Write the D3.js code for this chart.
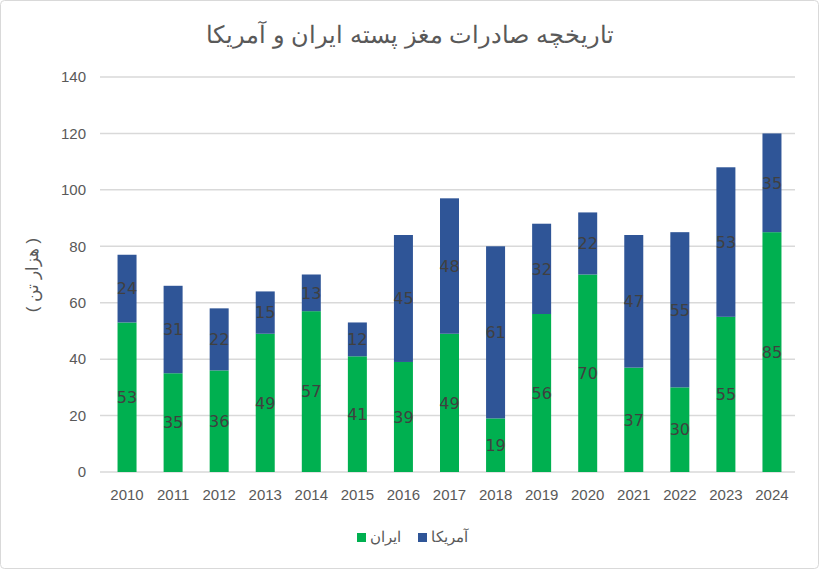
<!DOCTYPE html>
<html><head><meta charset="utf-8">
<script src="https://cdn.jsdelivr.net/npm/d3@7"></script>
<style>
html,body{margin:0;padding:0;background:#fff;}
svg{display:block;font-family:"DejaVu Sans",sans-serif;}
</style></head>
<body><svg id="c" width="819" height="569"></svg>
<script>
const years = ["2010","2011","2012","2013","2014","2015","2016","2017","2018","2019","2020","2021","2022","2023","2024"];
const iran = [53,35,36,49,57,41,39,49,19,56,70,37,30,55,85];
const usa = [24,31,22,15,13,12,45,48,61,32,22,47,55,53,35];
const yTicks = [0,20,40,60,80,100,120,140];
const seriesNames = ["ایران","آمریکا"];
const colors = ["#00B050","#2F5597"];
const title = "تاریخچه صادرات مغز پسته ایران و آمریکا";
const yLabel = "( هزار تن )";

(function(){
const svg = d3.select("#c");
svg.append("rect").attr("x",0.5).attr("y",0.5).attr("width",818).attr("height",568)
  .attr("rx",4).attr("fill","#fff").attr("stroke","#d9d9d9");

const pL=104, pR=795, pT=77, pB=472;
const x = d3.scaleBand().domain(years).range([pL,pR]).paddingInner(0.6).paddingOuter(0.3);
const y = d3.scaleLinear().domain([0,140]).range([pB,pT]);

// gridlines
svg.append("g").selectAll("line").data(yTicks).join("line")
  .attr("x1",100).attr("x2",pR).attr("y1",d=>y(d)).attr("y2",d=>y(d))
  .attr("stroke","#d9d9d9").attr("stroke-width",1.5);

// y tick labels
const ya = svg.append("g").attr("transform",`translate(92,0)`)
  .call(d3.axisLeft(y).tickValues(yTicks).tickSize(0).tickPadding(6));
ya.select(".domain").remove();
ya.selectAll("text").attr("font-size",15).attr("fill","#595959").attr("font-family","Liberation Sans, sans-serif");

// x tick labels
const xa = svg.append("g").attr("transform",`translate(0,${pB})`)
  .call(d3.axisBottom(x).tickSize(0).tickPadding(17));
xa.select(".domain").remove();
xa.selectAll("text").attr("font-size",15).attr("fill","#595959").attr("font-family","Liberation Sans, sans-serif");

const data = years.map((yr,i)=>({year:yr, iran:iran[i], usa:usa[i]}));
const stack = d3.stack().keys(["iran","usa"])(data);

const bw = 19;
stack.forEach((s,si)=>{
  svg.append("g").selectAll("rect").data(s).join("rect")
    .attr("x",d=>x(d.data.year)+x.bandwidth()/2-bw/2)
    .attr("width",bw)
    .attr("y",d=>y(d[1]))
    .attr("height",d=>y(d[0])-y(d[1]))
    .attr("fill",colors[si]);
  svg.append("g").selectAll("text").data(s).join("text")
    .attr("x",d=>x(d.data.year)+x.bandwidth()/2)
    .attr("y",d=>(y(d[0])+y(d[1]))/2)
    .attr("dy","0.36em")
    .attr("text-anchor","middle")
    .attr("font-size",16)
    .attr("fill","#404040")
    .text(d=>d[1]-d[0]);
});

// title
svg.append("text").attr("x",410).attr("y",43).attr("text-anchor","middle")
  .attr("font-size",24).attr("fill","#595959").attr("font-family","Liberation Sans, sans-serif")
  .text(title);

// y label
svg.append("text").attr("transform","translate(38,275) rotate(-90)")
  .attr("text-anchor","middle").attr("font-size",17).attr("fill","#595959")
  .attr("font-family","Liberation Sans, sans-serif").text(yLabel);

// legend
const lg = svg.append("g");
const legItems = [{x:357,name:seriesNames[0],c:colors[0]},{x:418,name:seriesNames[1],c:colors[1]}];
legItems.forEach(it=>{
  lg.append("rect").attr("x",it.x).attr("y",533).attr("width",9).attr("height",9).attr("fill",it.c);
  lg.append("text").attr("x",it.x+13).attr("y",542).attr("font-size",15).attr("fill","#595959")
    .attr("font-family","Liberation Sans, sans-serif").text(it.name);
});
})();
</script></body></html>
